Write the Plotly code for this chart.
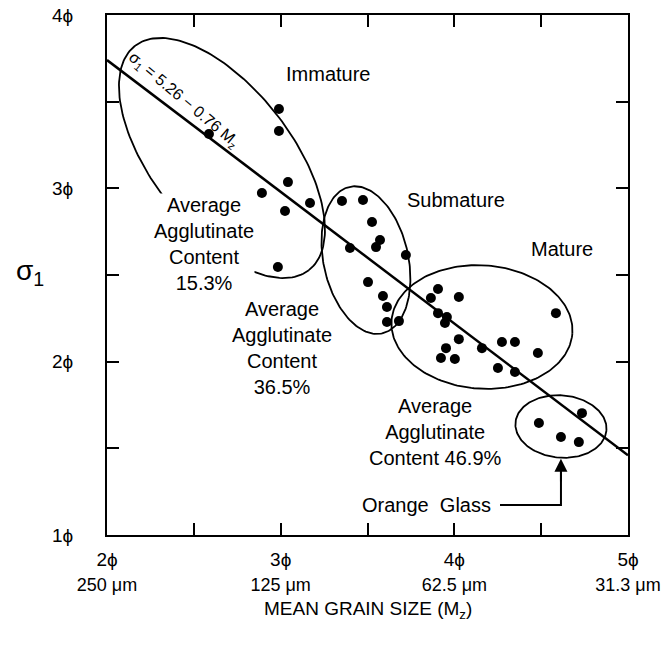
import numpy as np
import plotly.graph_objects as go

# ---------------- data ----------------
immature_x = [2.587, 2.990, 2.990, 3.042, 2.892, 3.025, 3.169, 2.984]
immature_y = [3.313, 3.458, 3.331, 3.036, 2.973, 2.869, 2.915, 2.546]

submature_x = [3.353, 3.474, 3.526, 3.572, 3.549, 3.399, 3.721, 3.503, 3.589, 3.612, 3.612, 3.681]
submature_y = [2.927, 2.933, 2.806, 2.702, 2.661, 2.656, 2.615, 2.459, 2.379, 2.315, 2.229, 2.234]

mature_x = [3.906, 4.026, 3.865, 3.906, 3.957, 3.946, 4.026, 3.952, 3.923, 4.003,
            4.159, 4.274, 4.349, 4.481, 4.251, 4.349, 4.585]
mature_y = [2.419, 2.373, 2.367, 2.280, 2.257, 2.223, 2.130, 2.078, 2.021, 2.015,
            2.078, 2.113, 2.113, 2.050, 1.963, 1.940, 2.280]

orange_x = [4.487, 4.614, 4.717, 4.735]
orange_y = [1.646, 1.565, 1.536, 1.703]

# regression: sigma1 = 5.26 - 0.76 Mz
reg_intercept = 5.26
reg_slope = -0.76
reg_x = [2.0, 5.0]

x_tickvals = [2, 2.5, 3, 3.5, 4, 4.5, 5]
x_ticktext = ["2ϕ", "", "3ϕ", "", "4ϕ", "", "5ϕ"]
um_tickvals = [2, 3, 4, 5]
um_ticktext = ["250 μm", "125 μm", "62.5 μm", "31.3 μm"]
y_tickvals = [1, 1.5, 2, 2.5, 3, 3.5, 4]
y_ticktext = ["1ϕ", "", "2ϕ", "", "3ϕ", "", "4ϕ"]

# ---------------- helpers ----------------
FONT = "Liberation Sans, Arial, Helvetica, sans-serif"


def ellipse(cx, cy, a, b, ang_deg, n=200):
    t = np.linspace(0, 2 * np.pi, n)
    ang = np.deg2rad(ang_deg)
    x = cx + a * np.cos(t) * np.cos(ang) - b * np.sin(t) * np.sin(ang)
    y = cy + a * np.cos(t) * np.sin(ang) + b * np.sin(t) * np.cos(ang)
    return x, y


fig = go.Figure()

# regression line
fig.add_trace(go.Scatter(
    x=reg_x, y=[reg_intercept + reg_slope * v for v in reg_x],
    mode="lines", line=dict(color="black", width=2.5),
    hoverinfo="skip", showlegend=False))

# group outlines
outlines = [
    (2.662, 3.175, 0.818, 0.403, -52.3),   # immature
    (3.491, 2.586, 0.433, 0.244, -77.5),   # submature
    (4.159, 2.200, 0.522, 0.356, -4.0),    # mature
    (4.614, 1.626, 0.263, 0.180, -5.0),    # orange glass
]
for cx, cy, a, b, ang in outlines:
    ex, ey = ellipse(cx, cy, a, b, ang)
    fig.add_trace(go.Scatter(x=ex, y=ey, mode="lines",
                             line=dict(color="black", width=1.8),
                             hoverinfo="skip", showlegend=False))

# points
for xs, ys in [(immature_x, immature_y), (submature_x, submature_y),
               (mature_x, mature_y), (orange_x, orange_y)]:
    fig.add_trace(go.Scatter(x=xs, y=ys, mode="markers",
                             marker=dict(color="black", size=10),
                             hoverinfo="skip", showlegend=False))

# dummy trace for the second (micron) x axis
fig.add_trace(go.Scatter(x=[2, 5], y=[1, 1], xaxis="x2", mode="markers",
                         marker=dict(opacity=0), hoverinfo="skip", showlegend=False))

# elbow line to Orange Glass
fig.add_trace(go.Scatter(x=[4.263, 4.614, 4.614], y=[1.173, 1.173, 1.40],
                         mode="lines", line=dict(color="black", width=2),
                         hoverinfo="skip", showlegend=False))

lab = dict(size=20, color="black", family=FONT)
annotations = [
    dict(x=3.27, y=3.66, text="Immature"),
    dict(x=4.01, y=2.93, text="Submature"),
    dict(x=4.62, y=2.65, text="Mature"),
    dict(x=2.56, y=2.68, text="Average<br>Agglutinate<br>Content<br>15.3%",
         bgcolor="white", borderpad=0),
    dict(x=3.01, y=2.08, text="Average<br>Agglutinate<br>Content<br>36.5%"),
    dict(x=3.89, y=1.593, text="Average<br>Agglutinate<br>Content 46.9%"),
    dict(x=3.84, y=1.173, text="Orange  Glass"),
]
anns = []
for a in annotations:
    d = dict(xref="x", yref="y", showarrow=False, font=lab,
             xanchor="center", yanchor="middle")
    d.update(a)
    anns.append(d)

# equation label along the regression line
anns.append(dict(x=2.443, y=3.504, xref="x", yref="y", showarrow=False,
                 xanchor="center", yanchor="middle",
                 text="σ<sub>1</sub> = 5.26 − 0.76 M<sub>z</sub>", textangle=40,
                 font=dict(size=16, color="black", family=FONT)))

# arrow head for orange glass
anns.append(dict(x=4.614, y=1.44, ax=4.614, ay=1.30, xref="x", yref="y",
                 axref="x", ayref="y", text="", showarrow=True,
                 arrowhead=2, arrowsize=1.3, arrowwidth=2, arrowcolor="black"))

# axis titles
anns.append(dict(x=-0.148, y=0.504, xref="paper", yref="paper", showarrow=False,
                 xanchor="center", yanchor="middle",
                 text="σ<sub>1</sub>", font=dict(size=28, color="black", family=FONT)))
anns.append(dict(x=0.5, y=0, xref="paper", yref="paper", showarrow=False,
                 yshift=-75, xanchor="center", yanchor="middle",
                 text="MEAN GRAIN SIZE (M<sub>z</sub>)",
                 font=dict(size=19, color="black", family=FONT)))

axis_common = dict(showgrid=False, zeroline=False, showline=True, linewidth=2,
                   linecolor="black", ticks="inside", ticklen=12, tickwidth=2,
                   tickcolor="black", mirror="ticks", automargin=False,
                   tickfont=dict(size=19, color="black", family=FONT))

fig.update_layout(
    width=665, height=649,
    margin=dict(l=107, r=37, t=15, b=114, autoexpand=False),
    paper_bgcolor="white", plot_bgcolor="white",
    xaxis=dict(range=[2, 5], tickmode="array", tickvals=x_tickvals,
               ticktext=x_ticktext, ticklabelstandoff=6, **axis_common),
    xaxis2=dict(range=[2, 5], overlaying="x", side="bottom", anchor="y",
                tickmode="array", tickvals=um_tickvals, ticktext=um_ticktext,
                showgrid=False, zeroline=False, showline=False, ticks="",
                ticklabelstandoff=37, automargin=False,
                tickfont=dict(size=18, color="black", family=FONT)),
    yaxis=dict(range=[1, 4], tickmode="array", tickvals=y_tickvals,
               ticktext=y_ticktext, ticklabelstandoff=28, **axis_common),
    annotations=anns,
    showlegend=False,
)

fig.write_html("out.html")
